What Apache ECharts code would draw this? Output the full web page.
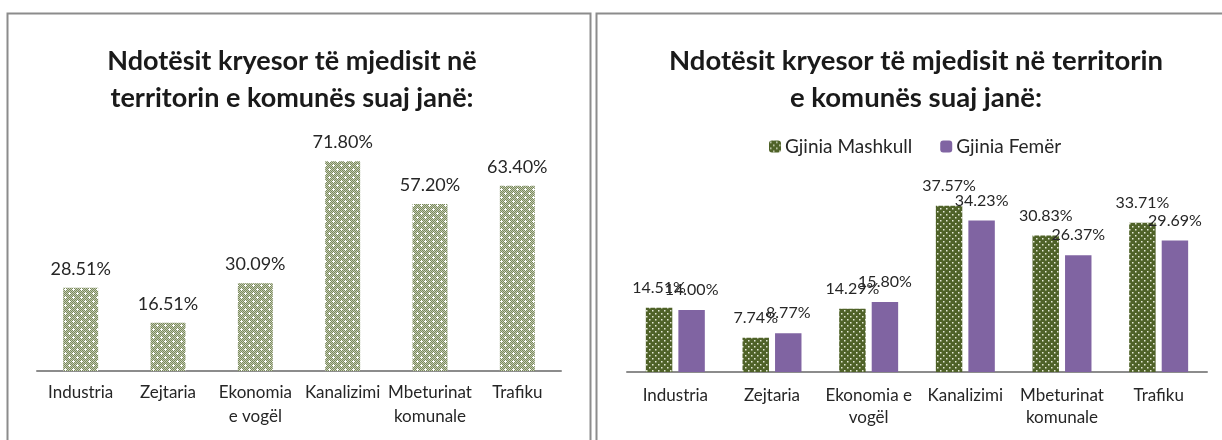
<!DOCTYPE html>
<html>
<head>
<meta charset="utf-8">
<script src="https://cdn.jsdelivr.net/npm/echarts@6/dist/echarts.min.js"></script>
<style>
  html, body { margin: 0; padding: 0; background: #ffffff; }
  #chart { width: 1222px; height: 440px; }
</style>
</head>
<body>
<div id="chart"></div>
<script>
// ---- Data ----
var titleText = 'Ndotësit kryesor të mjedisit në\nterritorin e komunës suaj janë:';
var titleTextRight = 'Ndotësit kryesor të mjedisit në territorin\ne komunës suaj janë:';
var categoriesLeft = ['Industria', 'Zejtaria', 'Ekonomia\ne vogël', 'Kanalizimi', 'Mbeturinat\nkomunale', 'Trafiku'];
var categoriesRight = ['Industria', 'Zejtaria', 'Ekonomia e\nvogël', 'Kanalizimi', 'Mbeturinat\nkomunale', 'Trafiku'];
var totalValues = [28.51, 16.51, 30.09, 71.80, 57.20, 63.40];
var seriesNames = ['Gjinia Mashkull', 'Gjinia Femër'];
var maleValues = [14.51, 7.74, 14.29, 37.57, 30.83, 33.71];
var femaleValues = [14.00, 8.77, 15.80, 34.23, 26.37, 29.69];

// ---- Patterns ----
function makeLeftPattern() {
  var c = document.createElement('canvas');
  c.width = 8; c.height = 8;
  var g = c.getContext('2d');
  for (var y = 0; y < 8; y++) {
    for (var x = 0; x < 8; x++) {
      g.fillStyle = ((x + y) % 2 === 0) ? '#7a8a5c' : '#c3cab2';
      g.fillRect(x, y, 1, 1);
    }
  }
  g.fillStyle = '#ffffff';
  [[1, 1], [5, 5]].forEach(function (p) {
    g.fillRect(p[0], p[1] - 1, 1, 3);
    g.fillRect(p[0] - 1, p[1], 3, 1);
  });
  return c;
}
function makeGreenDots() {
  var c = document.createElement('canvas');
  c.width = 6; c.height = 6;
  var g = c.getContext('2d');
  g.fillStyle = '#4f6228';
  g.fillRect(0, 0, 6, 6);
  g.fillStyle = '#e6ead8';
  g.fillRect(1, 1, 1.5, 1.5);
  g.fillRect(4, 4, 1.5, 1.5);
  return c;
}
var leftPattern = { image: makeLeftPattern(), repeat: 'repeat' };
var greenPattern = { image: makeGreenDots(), repeat: 'repeat' };

var FONT = 'Lato';
function pct(p) { return p.value.toFixed(2) + '%'; }

var chart = echarts.init(document.getElementById('chart'), null, { renderer: 'canvas' });
chart.setOption({
  backgroundColor: '#ffffff',
  animation: false,
  graphic: [
    { type: 'rect', shape: { x: 7.5, y: 13.5, width: 583, height: 500 },
      style: { fill: 'none', stroke: '#8c8c8c', lineWidth: 2 }, silent: true },
    { type: 'rect', shape: { x: 596.5, y: 13.5, width: 700, height: 500 },
      style: { fill: 'none', stroke: '#8c8c8c', lineWidth: 2 }, silent: true }
  ],
  title: [
    { text: titleText, left: 292, top: 43, textAlign: 'center', padding: 0,
      textStyle: { fontFamily: FONT, fontWeight: 'bold', fontSize: 27, lineHeight: 37, color: '#1a1a1a' } },
    { text: titleTextRight, left: 916, top: 43, textAlign: 'center', padding: 0,
      textStyle: { fontFamily: FONT, fontWeight: 'bold', fontSize: 27.5, lineHeight: 37, color: '#1a1a1a' } }
  ],
  legend: {
    data: seriesNames,
    left: 769, top: 137, padding: 0,
    itemWidth: 12, itemHeight: 12, itemGap: 28,
    textStyle: { fontFamily: FONT, fontSize: 19, color: '#262626', padding: [0, 0, 0, -1] }
  },
  grid: [
    { left: 37, width: 524, top: 137.4, bottom: 69 },
    { left: 627, width: 580, top: 195, bottom: 68 }
  ],
  xAxis: [
    { type: 'category', gridIndex: 0, data: categoriesLeft,
      axisLine: { lineStyle: { color: '#8c8c8c', width: 2 } }, axisTick: { show: false },
      axisLabel: { fontFamily: FONT, fontSize: 17, color: '#262626', lineHeight: 24, margin: 10, interval: 0 } },
    { type: 'category', gridIndex: 1, data: categoriesRight,
      axisLine: { lineStyle: { color: '#8c8c8c', width: 2 } }, axisTick: { show: false },
      axisLabel: { fontFamily: FONT, fontSize: 17, color: '#262626', lineHeight: 22, margin: 13, interval: 0 } }
  ],
  yAxis: [
    { type: 'value', gridIndex: 0, min: 0, max: 80, show: false, splitLine: { show: false } },
    { type: 'value', gridIndex: 1, min: 0, max: 40, show: false, splitLine: { show: false } }
  ],
  series: [
    { type: 'bar', name: 'Total', xAxisIndex: 0, yAxisIndex: 0, data: totalValues,
      barWidth: '40%', itemStyle: { color: leftPattern },
      label: { show: true, position: 'top', distance: 10, formatter: pct,
        fontFamily: FONT, fontSize: 18, color: '#262626' } },
    { type: 'bar', name: seriesNames[0], xAxisIndex: 1, yAxisIndex: 1, data: maleValues,
      barGap: '23%', barCategoryGap: '39%', itemStyle: { color: greenPattern },
      label: { show: true, position: 'top', distance: 12, formatter: pct,
        fontFamily: FONT, fontSize: 16, color: '#262626' } },
    { type: 'bar', name: seriesNames[1], xAxisIndex: 1, yAxisIndex: 1, data: femaleValues,
      barGap: '23%', barCategoryGap: '39%', itemStyle: { color: '#8064a2' },
      label: { show: true, position: 'top', distance: 12, formatter: pct,
        fontFamily: FONT, fontSize: 16, color: '#262626' } }
  ]
});
</script>
</body>
</html>
